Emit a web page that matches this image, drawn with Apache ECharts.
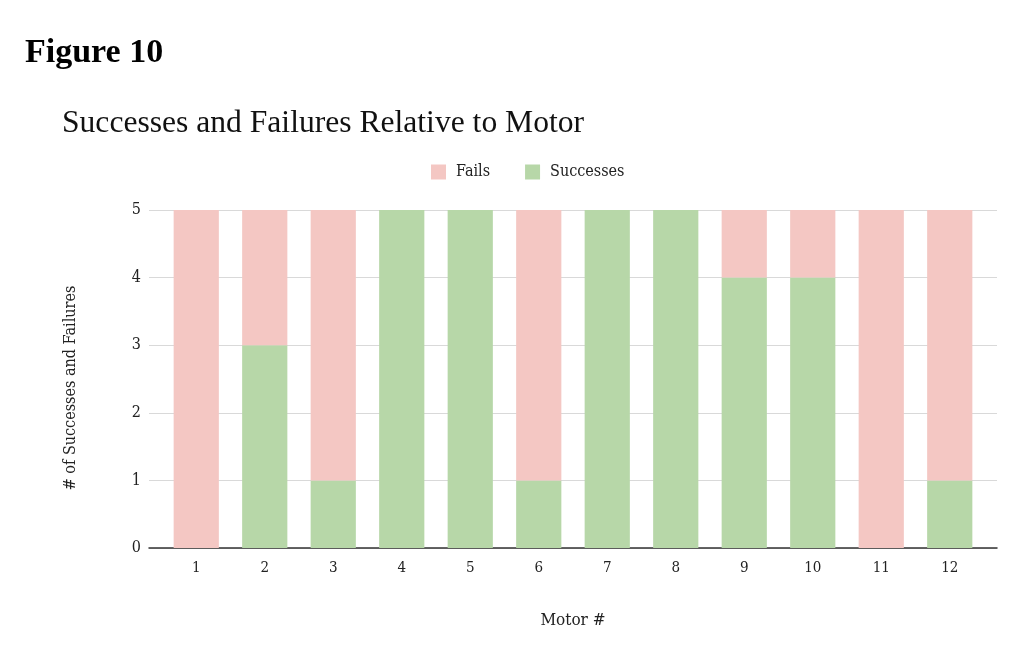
<!DOCTYPE html>
<html><head><meta charset="utf-8">
<script src="https://cdn.jsdelivr.net/npm/echarts@6/dist/echarts.min.js"></script>
<style>html,body{margin:0;padding:0;background:#fff}#c{width:1024px;height:648px}</style>
</head><body><div id="c"></div>
<script>
const categories = ['1','2','3','4','5','6','7','8','9','10','11','12'];
const successes = [0,3,1,5,5,1,5,5,4,4,0,1];
const fails = [5,2,4,0,0,4,0,0,1,1,5,4];
const yTicks = {min:0, max:5, interval:1};

const chart = echarts.init(document.getElementById('c'));
const lab = {fontFamily:'DejaVu Serif Condensed', color:'#222'};
chart.setOption({
  animation:false,
  title:[
    {text:'Figure 10', left:20, top:31, textStyle:{fontFamily:'Liberation Serif', fontWeight:'bold', fontSize:34, color:'#000'}},
    {text:'Successes and Failures Relative to Motor', left:57, top:103, textStyle:{fontFamily:'Liberation Serif', fontWeight:'normal', fontSize:31.6, color:'#111'}}
  ],
  legend:{left:426, top:159, itemWidth:15, itemHeight:15, itemGap:35, icon:'rect',
    textStyle:Object.assign({fontSize:16, padding:[0,0,0,5]}, lab), data:['Fails','Successes']},
  grid:[
    {left:149, right:27, top:210, bottom:100},
    {left:162, right:40, top:210, bottom:100}
  ],
  xAxis:[
    {gridIndex:0, type:'value', min:0, max:1, show:true, axisLabel:{show:false}, axisTick:{show:false},
      splitLine:{show:false}, axisLine:{onZero:false, lineStyle:{color:'#333', width:1.5}},
      name:'Motor #', nameLocation:'middle', nameGap:64, nameTextStyle:Object.assign({fontSize:17}, lab)},
    {gridIndex:1, type:'category', data:categories, axisLine:{show:false}, axisTick:{show:false},
      axisLabel:Object.assign({fontSize:15, margin:13}, lab)}
  ],
  yAxis:[
    {gridIndex:0, type:'value', min:yTicks.min, max:yTicks.max, interval:yTicks.interval,
      name:'# of Successes and Failures', nameLocation:'middle', nameGap:70,
      nameTextStyle:Object.assign({fontSize:16, padding:[0,18,0,0]}, lab),
      axisLine:{show:false}, axisTick:{show:false},
      splitLine:{lineStyle:{color:'#d9d9d9'}},
      axisLabel:Object.assign({fontSize:16, margin:8}, lab)},
    {gridIndex:1, type:'value', min:yTicks.min, max:yTicks.max, interval:yTicks.interval, show:false, splitLine:{show:false}}
  ],
  series:[
    {name:'Successes', type:'bar', stack:'t', xAxisIndex:1, yAxisIndex:1, data:successes, barWidth:'66%', itemStyle:{color:'#b7d7a8'}},
    {name:'Fails', type:'bar', stack:'t', xAxisIndex:1, yAxisIndex:1, data:fails, barWidth:'66%', itemStyle:{color:'#f4c7c3'}}
  ]
});
</script></body></html>
